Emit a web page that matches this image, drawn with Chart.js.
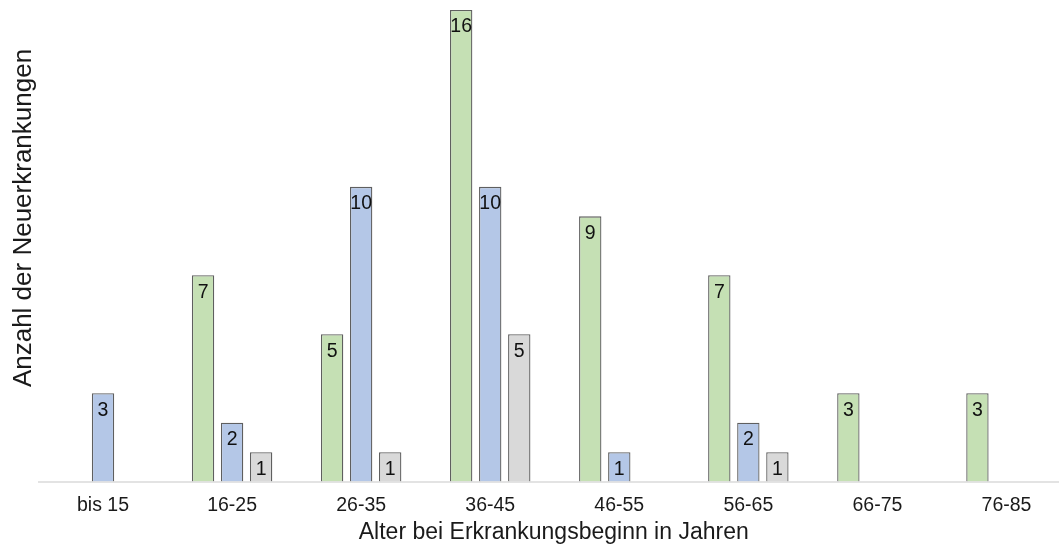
<!DOCTYPE html>
<html lang="de">
<head>
<meta charset="utf-8">
<title>Neuerkrankungen nach Alter bei Erkrankungsbeginn</title>
<script src="https://cdn.jsdelivr.net/npm/chart.js@4/dist/chart.umd.min.js"></script>
<style>
  html, body { margin: 0; padding: 0; background: #ffffff; overflow: hidden; }
  #wrap { width: 1071px; height: 547px; }
</style>
</head>
<body>
<div id="wrap"><canvas id="chart" width="1071" height="547"></canvas></div>
<script>
// Age groups at disease onset
const categories = ['bis 15', '16-25', '26-35', '36-45', '46-55', '56-65', '66-75', '76-85'];
// Number of new cases per group (null = no bar)
const seriesGreen = [null, 7, 5, 16, 9, 7, 3, 3];
const seriesBlue  = [3, 2, 10, 10, 1, 2, null, null];
const seriesGray  = [null, 1, 1, 5, null, 1, null, null];

const xTitle = 'Alter bei Erkrankungsbeginn in Jahren';
const yTitle = 'Anzahl der Neuerkrankungen';

const FONT = '"Liberation Sans", Arial, Helvetica, sans-serif';

// Value labels just inside the top of each bar
const barLabels = {
  id: 'barLabels',
  afterDatasetsDraw(chart) {
    const ctx = chart.ctx;
    ctx.save();
    ctx.font = '19.5px ' + FONT;
    ctx.fillStyle = '#111111';
    ctx.textAlign = 'center';
    ctx.textBaseline = 'middle';
    chart.data.datasets.forEach((ds, i) => {
      const meta = chart.getDatasetMeta(i);
      meta.data.forEach((bar, j) => {
        const v = ds.data[j];
        if (v === null || v === undefined) return;
        ctx.fillText(String(v), bar.x, bar.y + 17);
      });
    });
    ctx.restore();
  }
};

// Axis titles
const axisTitles = {
  id: 'axisTitles',
  afterDraw(chart) {
    const ctx = chart.ctx;
    const area = chart.chartArea;
    ctx.save();
    ctx.fillStyle = '#1a1a1a';
    ctx.textAlign = 'center';
    ctx.textBaseline = 'middle';
    ctx.font = '23px ' + FONT;
    ctx.fillText(xTitle, (area.left + area.right) / 2 - 1, 533);
    ctx.translate(24, 218);
    ctx.rotate(-Math.PI / 2);
    ctx.font = '26px ' + FONT;
    ctx.fillText(yTitle, 0, 0);
    ctx.restore();
  }
};

const common = { borderColor: '#5f5f5f', borderWidth: 1.3, categoryPercentage: 0.675, barPercentage: 0.77 };

new Chart(document.getElementById('chart'), {
  type: 'bar',
  data: {
    labels: categories,
    datasets: [
      Object.assign({ label: 'grün', data: seriesGreen, backgroundColor: '#c5e0b4' }, common),
      Object.assign({ label: 'blau', data: seriesBlue, backgroundColor: '#b4c7e7' }, common),
      Object.assign({ label: 'grau', data: seriesGray, backgroundColor: '#d9d9d9' }, common)
    ]
  },
  options: {
    responsive: false,
    devicePixelRatio: 1,
    animation: false,
    layout: { padding: { left: 38.5, top: 10, right: 0, bottom: 18 } },
    plugins: { legend: { display: false }, tooltip: { enabled: false } },
    scales: {
      x: {
        grid: { display: false, drawTicks: false },
        border: { display: true, color: '#e3e3e3', width: 2 },
        ticks: { font: { family: FONT, size: 19.5 }, color: '#1a1a1a', padding: 12, maxRotation: 0 }
      },
      y: {
        display: false,
        min: 0,
        max: 16
      }
    }
  },
  plugins: [barLabels, axisTitles]
});
</script>
</body>
</html>
